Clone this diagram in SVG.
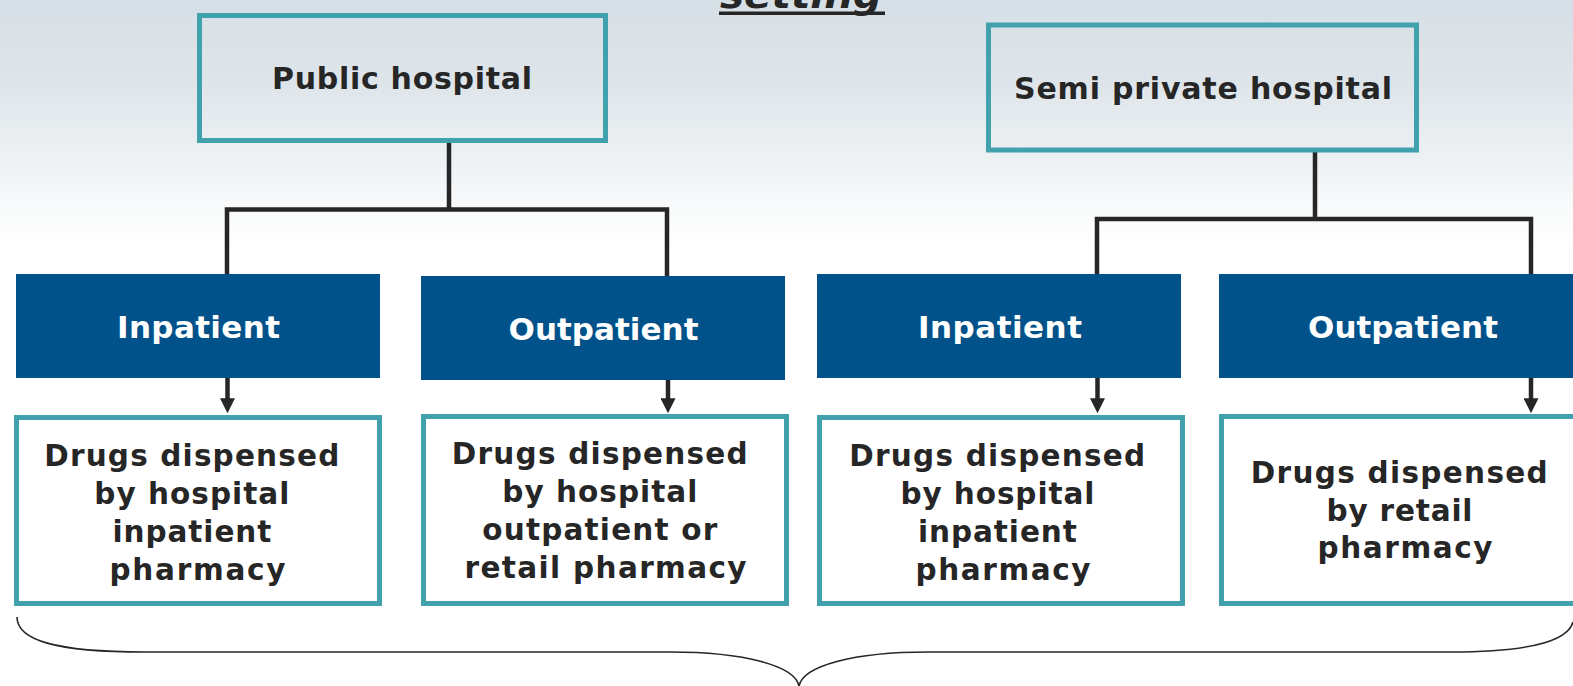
<svg xmlns="http://www.w3.org/2000/svg" width="1573" height="686" viewBox="0 0 1573 686">
  <defs>
    <linearGradient id="bg" x1="0" y1="0" x2="0" y2="1">
      <stop offset="0" stop-color="#d6dfe6"/>
      <stop offset="0.12" stop-color="#dee5ea"/>
      <stop offset="0.22" stop-color="#ecf0f3"/>
      <stop offset="0.30" stop-color="#f8fafb"/>
      <stop offset="0.36" stop-color="#ffffff"/>
      <stop offset="1" stop-color="#ffffff"/>
    </linearGradient>
    <marker id="arrow" viewBox="0 0 16 16" refX="2" refY="8" markerWidth="16" markerHeight="15" orient="auto" markerUnits="userSpaceOnUse">
      <path d="M0,0 L16,8 L0,16 Z" fill="#262626"/>
    </marker>
    <style>
      .hosp { fill: none; stroke: #41a1ac; stroke-width: 5; }
      .care { fill: #01528a; }
      .drug { fill: #ffffff; stroke: #41a1ac; stroke-width: 5; }
      .title { font-family: "DejaVu Sans", Verdana, sans-serif; font-weight: bold; font-size: 30px; fill: #262626; }
      .care-t { font-family: "DejaVu Sans", Verdana, sans-serif; font-weight: bold; font-size: 31px; fill: #ffffff; }
      .drug-t { font-family: "DejaVu Sans", Verdana, sans-serif; font-weight: bold; font-size: 29.5px; fill: #262626; }
      .link { fill: none; stroke: #262626; stroke-width: 4.5; }
      .brace { fill: none; stroke: #262626; stroke-width: 1.6; }
    </style>
  </defs>

  <!-- backdrop -->
  <rect x="0" y="0" width="1573" height="686" fill="url(#bg)"/>

  <!-- heading, mostly above the top edge -->
  <g id="heading">
    <text x="801" y="8" text-anchor="middle" font-family="DejaVu Sans, Verdana, sans-serif" font-weight="bold" font-style="italic" font-size="38" fill="#262626" textLength="162" lengthAdjust="spacingAndGlyphs">setting</text>
    <rect x="719" y="11.5" width="166" height="3.5" fill="#262626"/>
  </g>

  <!-- tree connectors and arrows -->
  <g id="connectors">
    <path class="link" d="M449,141 V209.5 M227,276 V209.5 H667 V278"/>
    <path class="link" d="M1315,150 V219 M1097,276 V219 H1531 V276"/>
    <line class="link" x1="227.5" y1="378" x2="227.5" y2="400" marker-end="url(#arrow)"/>
    <line class="link" x1="668" y1="380" x2="668" y2="400" marker-end="url(#arrow)"/>
    <line class="link" x1="1097.5" y1="378" x2="1097.5" y2="400" marker-end="url(#arrow)"/>
    <line class="link" x1="1531" y1="378" x2="1531" y2="400" marker-end="url(#arrow)"/>
  </g>

  <g id="public-hospital">
    <rect class="hosp" x="199.5" y="15.5" width="406" height="125"/>
    <text class="title" x="402" y="89" text-anchor="middle" textLength="260" lengthAdjust="spacing">Public hospital</text>
  </g>

  <g id="semi-private-hospital">
    <rect class="hosp" x="988.5" y="25" width="428" height="125"/>
    <text class="title" x="1203" y="99" text-anchor="middle" textLength="378" lengthAdjust="spacing">Semi private hospital</text>
  </g>

  <g id="public-inpatient">
    <rect class="care" x="16" y="274" width="364" height="104"/>
    <text class="care-t" x="198.5" y="338" text-anchor="middle" textLength="163" lengthAdjust="spacing">Inpatient</text>
  </g>

  <g id="public-outpatient">
    <rect class="care" x="421" y="276" width="364" height="104"/>
    <text class="care-t" x="603.5" y="340" text-anchor="middle" textLength="190" lengthAdjust="spacing">Outpatient</text>
  </g>

  <g id="semi-inpatient">
    <rect class="care" x="817" y="274" width="364" height="104"/>
    <text class="care-t" x="1000" y="338" text-anchor="middle" textLength="164" lengthAdjust="spacing">Inpatient</text>
  </g>

  <g id="semi-outpatient">
    <rect class="care" x="1219" y="274" width="360" height="104"/>
    <text class="care-t" x="1403" y="338" text-anchor="middle" textLength="190" lengthAdjust="spacing">Outpatient</text>
  </g>

  <g id="public-inpatient-drugs">
    <rect class="drug" x="16.5" y="417.5" width="363" height="186"/>
    <text class="drug-t" text-anchor="middle">
      <tspan x="197.5" y="466" textLength="295" lengthAdjust="spacing">Drugs dispensed</tspan>
      <tspan x="197.5" y="504" textLength="195" lengthAdjust="spacing">by hospital</tspan>
      <tspan x="197.5" y="542" textLength="159" lengthAdjust="spacing">inpatient</tspan>
      <tspan x="197.5" y="580" textLength="176" lengthAdjust="spacing">pharmacy</tspan>
    </text>
  </g>

  <g id="public-outpatient-drugs">
    <rect class="drug" x="423.5" y="416.5" width="363" height="187"/>
    <text class="drug-t" text-anchor="middle">
      <tspan x="605.5" y="464" textLength="296" lengthAdjust="spacing">Drugs dispensed</tspan>
      <tspan x="605.5" y="502" textLength="195" lengthAdjust="spacing">by hospital</tspan>
      <tspan x="605.5" y="540" textLength="235" lengthAdjust="spacing">outpatient or</tspan>
      <tspan x="605.5" y="578" textLength="282" lengthAdjust="spacing">retail pharmacy</tspan>
    </text>
  </g>

  <g id="semi-inpatient-drugs">
    <rect class="drug" x="819.5" y="417.5" width="363" height="186"/>
    <text class="drug-t" text-anchor="middle">
      <tspan x="1003" y="466" textLength="296" lengthAdjust="spacing">Drugs dispensed</tspan>
      <tspan x="1003" y="504" textLength="194" lengthAdjust="spacing">by hospital</tspan>
      <tspan x="1003" y="542" textLength="159" lengthAdjust="spacing">inpatient</tspan>
      <tspan x="1003" y="580" textLength="175" lengthAdjust="spacing">pharmacy</tspan>
    </text>
  </g>

  <g id="semi-outpatient-drugs">
    <rect class="drug" x="1221.5" y="416.5" width="360" height="187"/>
    <text class="drug-t" text-anchor="middle">
      <tspan x="1405" y="483" textLength="297" lengthAdjust="spacing">Drugs dispensed</tspan>
      <tspan x="1405" y="521" textLength="146" lengthAdjust="spacing">by retail</tspan>
      <tspan x="1405" y="558" textLength="175" lengthAdjust="spacing">pharmacy</tspan>
    </text>
  </g>

  <!-- curly brace spanning all four outcomes -->
  <g id="brace">
    <path class="brace" d="M17,617 C17,640 55,652 145,652 L670,652 C745,652 795,666 799,686 C803,666 853,652 928,652 L1450,652 C1535,652 1568,640 1573,622"/>
  </g>
</svg>
